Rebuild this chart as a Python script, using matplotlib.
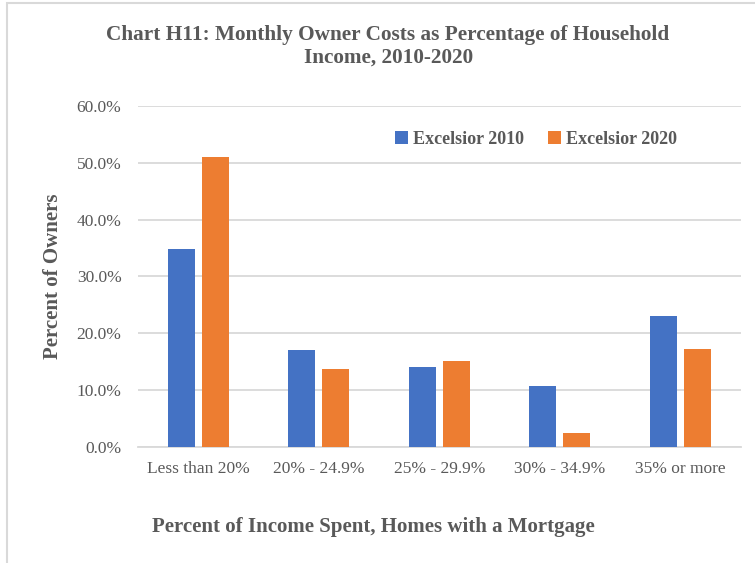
import numpy as np
import matplotlib
matplotlib.use("Agg")
from matplotlib import pyplot as plt
from matplotlib.patches import Rectangle

# data
categories = ["Less than 20%", "20% - 24.9%", "25% - 29.9%", "30% - 34.9%", "35% or more"]
excelsior_2010 = [34.8, 17.0, 14.0, 10.8, 23.1]
excelsior_2020 = [51.0, 13.8, 15.2, 2.5, 17.3]
yticks = [0, 10, 20, 30, 40, 50, 60]

BLUE = "#4472C4"
ORANGE = "#ED7D31"
GRID = "#D9D9D9"
TXT = "#595959"

plt.rcParams["font.family"] = ["Liberation Serif", "DejaVu Serif"]

fig = plt.figure(figsize=(7.55, 5.63), dpi=100)
ax = fig.add_axes([0.183, 0.206, 0.798, 0.606])

x = np.arange(len(categories))
w = 0.224
ax.bar(x - 0.141, excelsior_2010, w, color=BLUE, label="Excelsior 2010", zorder=3)
ax.bar(x + 0.141, excelsior_2020, w, color=ORANGE, label="Excelsior 2020", zorder=3)

ax.set_xlim(-0.5, len(categories) - 0.5)
ax.set_ylim(0, 60)
ax.set_yticks(yticks)
ax.set_yticklabels([f"{v:.1f}%" for v in yticks], color=TXT, fontsize=12.5)
ax.set_xticks(x)
ax.set_xticklabels(categories, color=TXT, fontsize=12.5)
ax.tick_params(axis="y", length=0, pad=12)
ax.tick_params(axis="x", length=0, pad=10)
ax.grid(axis="y", color=GRID, linewidth=1.3, zorder=0)
for s in ["top", "right", "left"]:
    ax.spines[s].set_visible(False)
ax.spines["bottom"].set_color(GRID)
ax.spines["bottom"].set_linewidth(1.3)

ax.set_ylabel("Percent of Owners", fontsize=15, fontweight="bold", color=TXT, labelpad=10)
fig.text(0.495, 0.064, "Percent of Income Spent, Homes with a Mortgage",
         ha="center", va="center", fontsize=15, fontweight="bold", color=TXT)

fig.text(0.514, 0.918, "Chart H11: Monthly Owner Costs as Percentage of Household\nIncome, 2010-2020",
         ha="center", va="center", fontsize=15.3, fontweight="bold", color=TXT, linespacing=1.18)

leg = ax.legend(loc="upper left", bbox_to_anchor=(0.4, 0.975), ncol=2, frameon=False,
                handlelength=0.7, handleheight=0.7, handletextpad=0.3, columnspacing=1.3,
                prop={"weight": "bold", "size": 13})
for t in leg.get_texts():
    t.set_color(TXT)

# outer chart border
fig.patches.append(Rectangle((0.009, -0.01), 1.1, 1.004, transform=fig.transFigure,
                             fill=False, edgecolor=GRID, linewidth=1.5))

fig.savefig("out.png", dpi=100)
